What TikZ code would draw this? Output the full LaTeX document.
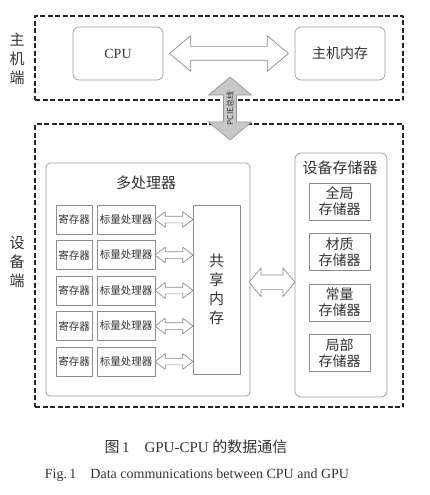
\documentclass[tikz,border=0pt]{standalone}
\usepackage{fontspec}
\setmainfont{Liberation Serif}
\newfontfamily\cjk{Noto Sans CJK SC}
\usetikzlibrary{shapes.arrows, calc}

\begin{document}
\begin{tikzpicture}[x=1pt, y=-1pt, line join=round,
    every node/.style={text=black!80},
    zone/.style={draw=black!85, line width=1.7pt, dash pattern=on 5pt off 2.5pt,
                 minimum width=368pt, inner sep=0pt},
    ubox/.style={draw=black!40, line width=0.7pt, rounded corners=6pt, inner sep=0pt},
    cell/.style={draw=black!45, line width=0.7pt, inner sep=0pt, align=center},
    blk/.style={double arrow, draw=black!45, fill=white, line width=0.7pt, inner xsep=0pt},
    side/.style={align=center, font=\cjk\fontsize{15}{19}\selectfont},
    big/.style={font=\cjk\fontsize{14}{17}\selectfont},
    small/.style={font=\cjk\fontsize{10.5}{12}\selectfont}]
  \useasboundingbox (0,0) rectangle (429,495);

  % Host side
  \node[zone, minimum height=84pt] (host) at (219,58) {};
  \node[side] (hostlbl) at (17,59) {主\\机\\端};
  \node[ubox, minimum width=90pt, minimum height=53pt, font=\fontsize{14}{16}\selectfont] (cpu) at (118,53.5) {CPU};
  \node[ubox, minimum width=90pt, minimum height=53pt, big] (hmem) at (340,53.5) {主机内存};
  \node[blk, minimum height=119pt, inner ysep=6.5pt, double arrow head extend=11pt,
        double arrow tip angle=80] (hostbus) at ($(cpu.east)!0.5!(hmem.west)$) {};

  % Device side
  \node[zone, minimum height=283pt] (dev) at (219,265.5) {};
  \node[side] (devlbl) at (17,262) {设\\备\\端};

  % PCIE bus
  \node[blk, rotate=90, fill=black!22, draw=black!40, minimum height=63pt, inner ysep=2.5pt,
        double arrow head extend=15pt, double arrow tip angle=100,
        font=\cjk\fontsize{8}{8}\selectfont] (pcie) at ($(host.south)!0.5!(dev.north)+(11,-3.5)$) {PCIE总线};

  % Multiprocessor
  \node[ubox, rounded corners=4pt, minimum width=204pt, minimum height=233pt] (mp) at (148,279.5) {};
  \node[big, font=\cjk\fontsize{15}{17}\selectfont] (mptitle) at (146,183) {多处理器};
  \node[cell, minimum width=47pt, minimum height=169pt, side] (shm) at (216.5,289.5) {共\\享\\内\\存};
  \foreach \i in {1,...,5} {
    \node[cell, minimum width=36pt, minimum height=29pt, small] (reg\i) at (74,184+35.5*\i) {寄存器};
    \node[cell, minimum width=58pt, minimum height=29pt, small] (scal\i) at (126,184+35.5*\i) {标量处理器};
    \node[blk, minimum height=38pt, inner ysep=3pt, double arrow head extend=4.5pt,
          double arrow tip angle=75] (link\i) at ($(scal\i.east)!0.5!(scal\i.east -| shm.west)$) {};
  }

  % Device memory
  \node[ubox, minimum width=92pt, minimum height=244pt] (devmem) at (341,275) {};
  \node[big, font=\cjk\fontsize{15}{17}\selectfont] (dmtitle) at (340,168) {设备存储器};
  \foreach \t [count=\i] in {全局, 材质, 常量, 局部}
    \node[cell, minimum width=61pt, minimum height=37pt, big, font=\cjk\fontsize{14}{16}\selectfont]
      (mem\i) at (339.5,151+50.5*\i) {\t\\存储器};

  \node[blk, minimum height=46pt, inner ysep=7pt, double arrow head extend=7pt,
        double arrow tip angle=100] (devbus) at ($(shm.east)!0.5!(devmem.west)+(4.5,0)$) {};

  % Captions
  \node[font=\fontsize{15}{17}\selectfont] (cap) at (196,447) {{\cjk 图}\,1\quad GPU-CPU {\cjk 的数据通信}};
  \node[font=\fontsize{14}{16}\selectfont] (capen) at (197,475) {Fig.\,1\quad Data communications between CPU and GPU};
\end{tikzpicture}
\end{document}
